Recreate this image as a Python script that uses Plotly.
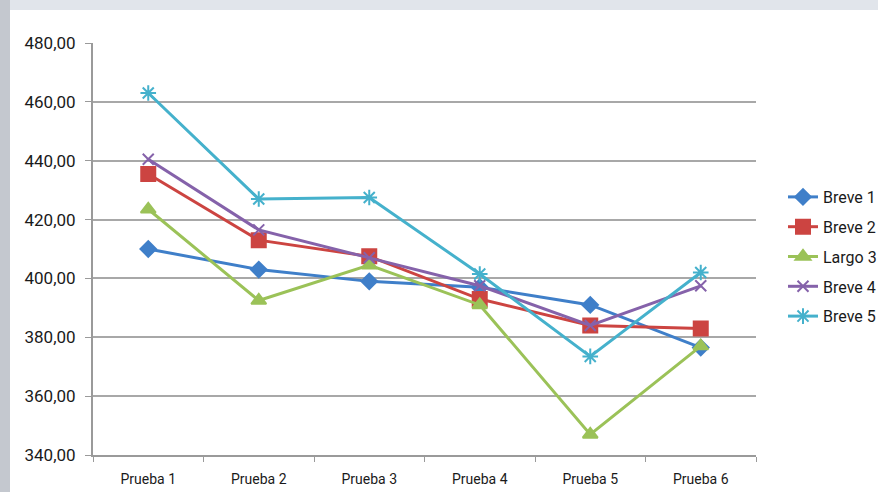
import plotly.graph_objects as go

categories = ["Prueba 1", "Prueba 2", "Prueba 3", "Prueba 4", "Prueba 5", "Prueba 6"]
series_names = ["Breve 1", "Breve 2", "Largo 3", "Breve 4", "Breve 5"]
breve1 = [410.0, 403.0, 399.0, 397.0, 391.0, 376.5]
breve2 = [435.5, 413.0, 407.5, 393.0, 384.0, 383.0]
largo3 = [423.5, 392.5, 404.5, 391.0, 347.0, 377.0]
breve4 = [440.5, 416.5, 407.0, 397.5, 384.0, 397.5]
breve5 = [463.0, 427.0, 427.5, 401.5, 373.5, 402.0]
y_ticks = [340, 360, 380, 400, 420, 440, 460, 480]

values = [breve1, breve2, largo3, breve4, breve5]
colors = ["#3f7fc9", "#cc4441", "#9bc258", "#8562aa", "#45b1cc"]
symbols = ["diamond", "square", "triangle-up", "x-thin-open", "asterisk-open"]
msizes = [12, 14, 13, 11, 13]

FONT = "Roboto, sans-serif"
TXT = "#1a1a1a"

fig = go.Figure()
for name, vals, col, sym, ms in zip(series_names, values, colors, symbols, msizes):
    fig.add_trace(go.Scatter(
        x=categories, y=vals, name=name, mode="lines+markers",
        legendgroup=name,
        line=dict(color=col, width=3),
        marker=dict(symbol=sym, size=ms, color=col, line=dict(color=col, width=2)),
    ))

W, H = 878, 492
L, R, T, B = 93, 122, 43, 37
pw, ph = W - L - R, H - T - B

def px(x):
    return (x - L) / pw

def py(y):
    return (H - B - y) / ph

shapes = [
    # top strip
    dict(type="rect", xref="paper", yref="paper", x0=px(0), x1=px(W), y0=py(10), y1=py(0),
         fillcolor="#e1e5eb", line=dict(width=0), layer="below"),
    # left strip
    dict(type="rect", xref="paper", yref="paper", x0=px(0), x1=px(10), y0=py(H), y1=py(0),
         fillcolor="#c4c8cf", line=dict(width=0), layer="below"),
]

fig.update_layout(
    width=W, height=H,
    margin=dict(l=L, r=R, t=T, b=B, pad=0, autoexpand=False),
    paper_bgcolor="white", plot_bgcolor="rgba(0,0,0,0)",
    separators=",.",
    font=dict(family=FONT, size=14, color=TXT),
    shapes=shapes,
    showlegend=True,
    legend=dict(x=px(783), y=py(180), xanchor="left", yanchor="top",
                font=dict(family=FONT, size=16, color=TXT),
                tracegroupgap=6, itemwidth=30, bgcolor="rgba(0,0,0,0)"),
    xaxis=dict(
        type="category", range=[-0.5, 5.5],
        showline=True, linecolor="#9a9a9a", linewidth=2,
        ticks="outside", ticklen=5, tickcolor="#9a9a9a", tickwidth=1,
        tickson="boundaries", showgrid=False,
        tickfont=dict(family=FONT, size=14, color=TXT),
        ticklabelstandoff=10,
    ),
    yaxis=dict(
        range=[340, 480], tickvals=y_ticks, tickformat=".2f",
        showline=True, linecolor="#9a9a9a", linewidth=2,
        ticks="outside", ticklen=6, tickcolor="#9a9a9a", tickwidth=1,
        showgrid=True, gridcolor="#a8a8a8", gridwidth=2,
        zeroline=False,
        tickfont=dict(family=FONT, size=17, color=TXT),
        ticklabelstandoff=6,
    ),
)

fig.write_html("out.html", config={"displayModeBar": False},
               post_script="document.body.style.margin='0';")
